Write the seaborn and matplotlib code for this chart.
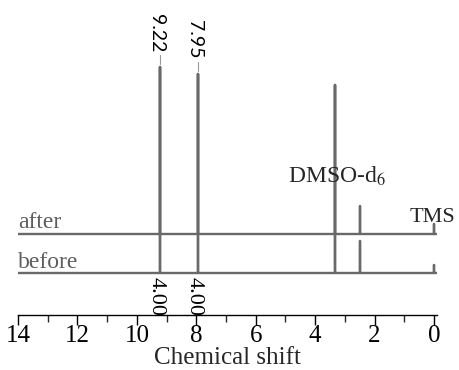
import numpy as np
import pandas as pd
import matplotlib
matplotlib.use("Agg")
import matplotlib.pyplot as plt
import seaborn as sns
from matplotlib.ticker import MultipleLocator

# ---- data ----
peak_shifts = [9.22, 7.95, 3.33, 2.50, 0.00]
after_heights = [167, 160, 149, 28.5, 10.5]
before_heights = [206, 199, 188, 32, 8.5]
spectra = ["before", "after"]
spectrum_offsets = [0, 39]
labelled_peaks = [9.22, 7.95]
peak_labels = ["9.22", "7.95"]
integral_labels = ["4.00", "4.00"]
x_ticks = [14, 12, 10, 8, 6, 4, 2, 0]
x_range = (14.0, -0.1)

# ---- build stick spectra ----
rows = []
for name, off, heights in zip(spectra, spectrum_offsets, [before_heights, after_heights]):
    rows.append((name, x_range[0], off))
    for p, h in sorted(zip(peak_shifts, heights), key=lambda t: -t[0]):
        rows += [(name, p, off), (name, p, off + h), (name, p, off)]
    rows.append((name, x_range[1] + 0.01, off))
df = pd.DataFrame(rows, columns=["spectrum", "shift", "intensity"])

sns.set_style("ticks")
plt.rcParams["font.family"] = ["Liberation Serif", "DejaVu Serif"]
plt.rcParams["mathtext.fontset"] = "stix"

fig = plt.figure(figsize=(4.59, 3.70), dpi=100)
ax = fig.add_axes([18 / 459, 55 / 370, 419 / 459, 315 / 370])

line_col = "#696969"
sns.lineplot(data=df, x="shift", y="intensity", hue="spectrum", hue_order=spectra,
             palette={"before": line_col, "after": line_col}, sort=False,
             estimator=None, legend=False, lw=1.7, ax=ax)

ax.set_xlim(*x_range)
ax.set_ylim(-42, 273)
for s in ["left", "top", "right"]:
    ax.spines[s].set_visible(False)
ax.spines["bottom"].set_linewidth(1.0)
ax.spines["bottom"].set_color("black")
ax.set_yticks([])
ax.set_ylabel("")
ax.set_xticks(x_ticks)
ax.set_xticklabels([str(t) for t in x_ticks])
ax.xaxis.set_minor_locator(MultipleLocator(1))
ax.tick_params(axis="x", which="major", direction="out", length=7, width=1.0,
               labelsize=18, pad=0.5, colors="black")
ax.tick_params(axis="x", which="minor", direction="out", length=5, width=1.0)
ax.set_xlabel("Chemical shift", fontsize=18, labelpad=-0.5)

# spectrum names
after_off = spectrum_offsets[1]
ax.text(x_range[0], after_off + 6, "after", fontsize=17, color="#5e5e5e",
        ha="left", va="baseline")
ax.text(x_range[0], 5, "before", fontsize=17, color="#5e5e5e",
        ha="left", va="baseline")

# solvent / reference labels
ax.text(4.91, 90.5, "DMSO-d$_6$", fontsize=17, ha="left", va="baseline")
ax.text(0.81, 51.5, "TMS", fontsize=16, ha="left", va="baseline")

# peak labels with leader dashes
for p, lab in zip(labelled_peaks, peak_labels):
    top = after_off + after_heights[peak_shifts.index(p)]
    ax.plot([p, p], [top + 3, top + 12], color="#9a9a9a", lw=0.8)
    ax.text(p + 0.12, top + 15, lab, rotation=-90, ha="center", va="bottom",
            fontsize=14, family=["Lato", "DejaVu Sans"], color="black")

# integrals
for p, lab in zip(labelled_peaks, integral_labels):
    ax.text(p + 0.13, -4, lab, rotation=-90, ha="center", va="top",
            fontsize=16, color="black")

fig.savefig("out.png", dpi=100)
